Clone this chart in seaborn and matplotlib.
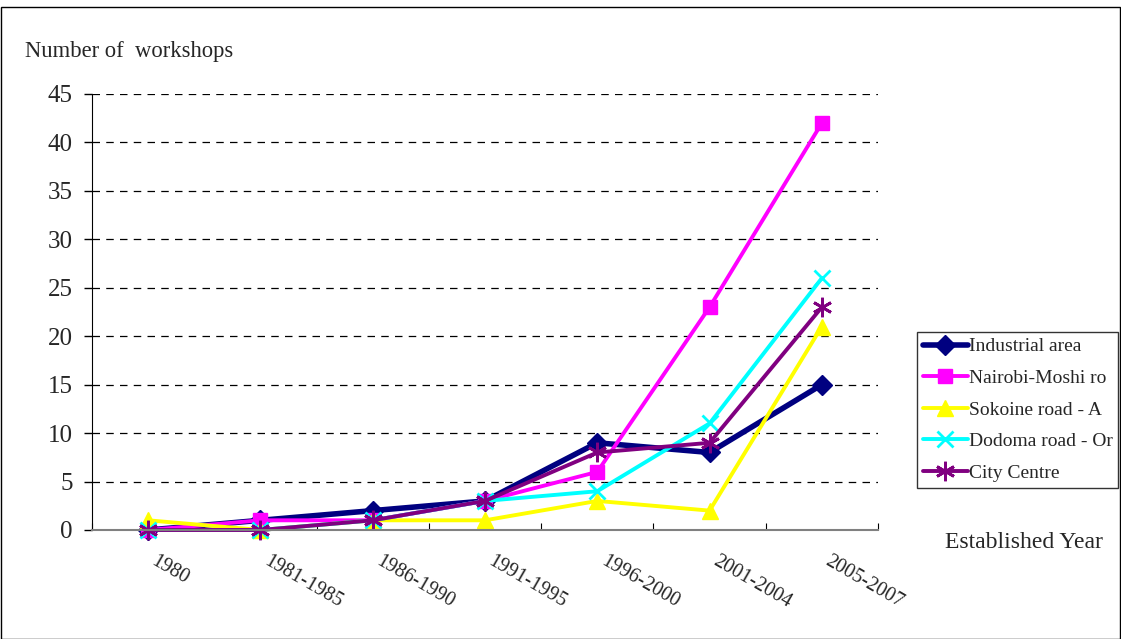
import matplotlib
matplotlib.use("Agg")
import numpy as np
import pandas as pd
import seaborn as sns
import matplotlib.pyplot as plt
from matplotlib.patches import Rectangle

# categorias e valores
anos = ["1980", "1981-1985", "1986-1990", "1991-1995", "1996-2000", "2001-2004", "2005-2007"]
industrial = [0, 1, 2, 3, 9, 8, 15]
nairobi = [0, 1, 1, 3, 6, 23, 42]
sokoine = [1, 0, 1, 1, 3, 2, 21]
dodoma = [0, 0, 1, 3, 4, 11, 26]
city = [0, 0, 1, 3, 8, 9, 23]

nomes = ["Industrial area", "Nairobi-Moshi ro", "Sokoine road - A", "Dodoma road - Or", "City Centre"]
series = [industrial, nairobi, sokoine, dodoma, city]
cores = ["#000080", "#FF00FF", "#FFFF00", "#00FFFF", "#800080"]
marcadores = ["D", "s", "^", "x", (6, 2, 0)]
tamanhos = [10, 10, 11, 12, 14]
larguras = [4, 2.8, 2.8, 2.8, 2.8]

sns.set_style("white")
plt.rcParams["font.family"] = ["Liberation Serif", "DejaVu Serif"]

fig = plt.figure(figsize=(11.21, 6.39), dpi=100)
ax = fig.add_axes([92 / 1121, 1 - 530 / 639, (878 - 92) / 1121, (530 - 94) / 639])

for nome, vals, cor, mk, ms, lw in zip(nomes, series, cores, marcadores, tamanhos, larguras):
    df = pd.DataFrame({"ano": np.arange(len(anos)), "n": vals})
    sns.lineplot(data=df, x="ano", y="n", ax=ax, color=cor, marker=mk, markersize=ms,
                 linewidth=lw, markeredgecolor=cor, markeredgewidth=2 if mk in ("x",) or isinstance(mk, tuple) else 1,
                 label=nome, clip_on=False)

ax.set_xlim(-0.5, 6.5)
ax.set_ylim(0, 45)
ax.set_yticks(np.arange(0, 46, 5))
ax.tick_params(axis="y", labelsize=18, direction="out", length=6, width=1, left=True, color="black", pad=8)
ax.set_xticks(np.arange(-0.5, 6.6, 1))
ax.set_xticklabels([])
ax.set_xticks(np.arange(len(anos)), minor=True)
ax.set_xticklabels(anos, minor=True, rotation=-30, ha="left", va="top", fontsize=14.5)
ax.tick_params(axis="x", which="major", direction="in", length=5, bottom=True, color="black")
ax.tick_params(axis="x", which="minor", length=0, pad=16)
for y in range(5, 46, 5):
    ax.axhline(y, color="black", linestyle=(0, (6, 5)), linewidth=0.9, zorder=0)
for s in ["top", "right"]:
    ax.spines[s].set_visible(False)
ax.spines["left"].set_color("black")
ax.spines["bottom"].set_color("#808080")
ax.spines["bottom"].set_linewidth(1.5)
ax.set_xlabel("")
ax.set_ylabel("")

fig.text(25 / 1121, 1 - 52 / 639, "Number of  workshops", fontsize=16.3, va="center")
fig.text(945 / 1121, 1 - 542 / 639, "Established Year", fontsize=17, va="center")

leg = ax.legend(loc="upper left", bbox_to_anchor=(917 / 1121, 1 - 332 / 639),
                bbox_transform=fig.transFigure, fontsize=14, frameon=True, fancybox=False,
                borderaxespad=0, handlelength=2.3, handletextpad=0.05, labelspacing=0.72,
                borderpad=0.3)
leg.get_frame().set_edgecolor("black")
leg.get_frame().set_linewidth(1)

fig.patches.append(Rectangle((0.5 / 1121, 0), 1 - 1.5 / 1121, 1 - 7 / 639, transform=fig.transFigure,
                             fill=False, edgecolor="black", linewidth=1))

fig.savefig("out.png", dpi=100)
